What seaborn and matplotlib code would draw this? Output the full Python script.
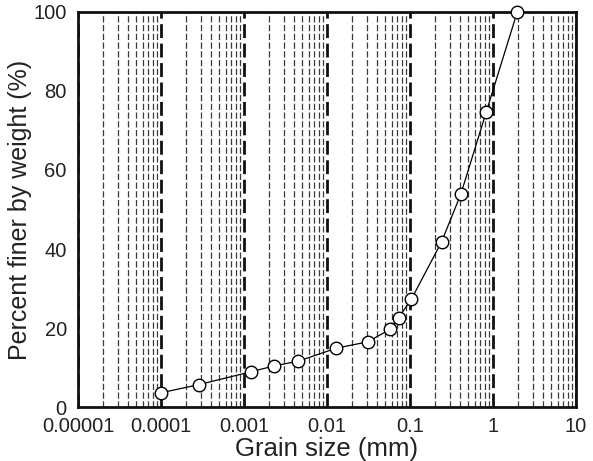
import matplotlib
matplotlib.use("Agg")
import matplotlib.pyplot as plt
import numpy as np
import pandas as pd
import seaborn as sns
from matplotlib.ticker import FixedLocator, LogLocator, NullFormatter

# Grain-size distribution (hydrometer + sieve analysis)
grain_size_mm = [0.0001, 0.00029, 0.0012, 0.0023, 0.0045, 0.013, 0.031,
                 0.058, 0.073, 0.104, 0.24, 0.41, 0.83, 1.96]
percent_finer = [3.6, 5.7, 8.9, 10.4, 11.6, 14.9, 16.5,
                 19.7, 22.6, 27.3, 41.8, 53.9, 74.7, 100.0]

x_ticks = [0.00001, 0.0001, 0.001, 0.01, 0.1, 1, 10]
x_tick_labels = ["0.00001", "0.0001", "0.001", "0.01", "0.1", "1", "10"]
y_ticks = [0, 20, 40, 60, 80, 100]

sns.set_theme(style="white")
plt.rcParams["font.family"] = ["Liberation Sans", "DejaVu Sans"]

df = pd.DataFrame({"size": grain_size_mm, "finer": percent_finer})

fig = plt.figure(figsize=(5.93, 4.61), dpi=100)
ax = fig.add_axes([0.1315, 0.1171, 0.8398, 0.8569])

ax.set_xscale("log")
ax.set_xlim(1e-5, 10)
ax.set_ylim(0, 100)

# Log-paper grid: bold dashed decades, lighter dashed sub-decades
ax.xaxis.set_major_locator(FixedLocator(x_ticks))
ax.xaxis.set_minor_locator(LogLocator(base=10, subs=np.arange(2, 10)))
ax.xaxis.set_minor_formatter(NullFormatter())
ax.set_xticks(x_ticks)
ax.set_xticklabels(x_tick_labels)
ax.set_yticks(y_ticks)
ax.set_yticks([20, 40, 60, 80], minor=True)

ax.grid(False)
ax.xaxis.grid(True, which="major", color="#111111", linestyle=(0, (5, 2)), linewidth=2.0)
ax.xaxis.grid(True, which="minor", color="#3a3a3a", linestyle=(0, (5, 2)), linewidth=0.9)
ax.yaxis.grid(True, which="minor", color="#222222", linestyle=(0, (6, 3)), linewidth=0.9)

sns.lineplot(data=df, x="size", y="finer", ax=ax, color="black", linewidth=0.9,
             marker="o", markersize=9, markerfacecolor="white",
             markeredgecolor="black", markeredgewidth=1.0, zorder=5, clip_on=False)

ax.tick_params(axis="both", which="both", length=0, labelsize=14.5, colors="#222222")
ax.tick_params(axis="x", pad=7)
ax.tick_params(axis="y", pad=8)

for spine in ax.spines.values():
    spine.set_visible(True)
    spine.set_color("#111111")
    spine.set_linewidth(2.0)

ax.set_xlabel("Grain size (mm)", fontsize=18.5, color="#222222", labelpad=1)
ax.set_ylabel("Percent finer by weight (%)", fontsize=18, color="#222222", labelpad=1)

fig.savefig("out.png", dpi=100)
